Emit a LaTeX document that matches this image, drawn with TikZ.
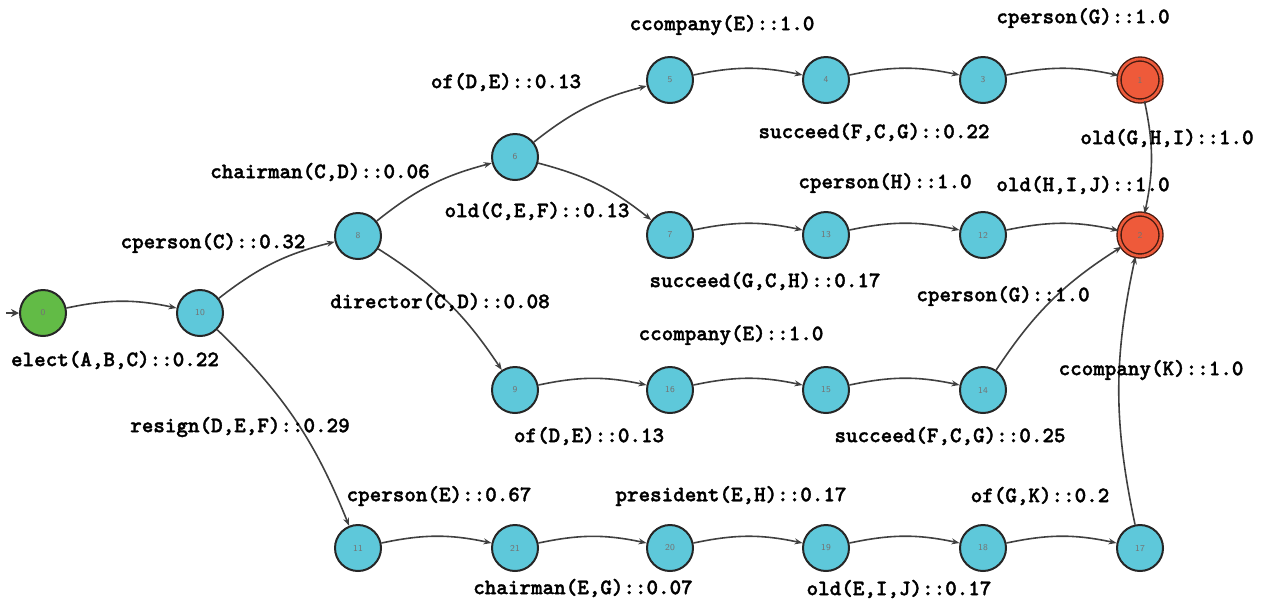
\documentclass[tikz,border=0pt]{standalone}
\usepackage{fontspec}
\newfontfamily\lblfont{lmmonolt10-bold.otf}[FakeBold=1.6]
\usetikzlibrary{arrows.meta}

\definecolor{statecyan}{RGB}{94,200,218}
\definecolor{stategreen}{RGB}{98,187,70}
\definecolor{statered}{RGB}{238,90,58}

\tikzset{
  state/.style={circle, draw=black!85, line width=1pt, fill=statecyan,
    minimum size=23pt, inner sep=0pt,
    font=\fontsize{4.5}{4.5}\selectfont\sffamily, text=black!55},
  initial/.style={state, fill=stategreen},
  accept/.style={state, fill=statered, draw=black!70!statered, line width=0.7pt,
    double=statered, double distance=1.3pt, minimum size=21pt},
  trans/.style={draw=black!75, line width=0.8pt, bend left=12,
    -{Stealth[length=4pt, width=3pt]}},
  lbl/.style={font=\fontsize{11}{12}\selectfont\lblfont}
}

\begin{document}
\begin{tikzpicture}[x=0.5pt, y=-0.5pt]
\useasboundingbox (0,0) rectangle (1267,601);

% states
\node [initial] (n0) at (43,313) {0};
\node [state] (n10) at (200,313) {10};
\node [state] (n8) at (358,236) {8};
\node [state] (n6) at (515,157) {6};
\node [state] (n5) at (670,80) {5};
\node [state] (n4) at (826,80) {4};
\node [state] (n3) at (983,80) {3};
\node [accept] (n1) at (1140,80) {1};
\node [state] (n7) at (670,235) {7};
\node [state] (n13) at (826,235) {13};
\node [state] (n12) at (983,235) {12};
\node [accept] (n2) at (1140,235) {2};
\node [state] (n9) at (515,390) {9};
\node [state] (n16) at (670,390) {16};
\node [state] (n15) at (826,390) {15};
\node [state] (n14) at (983,390) {14};
\node [state] (n11) at (358,548) {11};
\node [state] (n21) at (515,548) {21};
\node [state] (n20) at (670,548) {20};
\node [state] (n19) at (826,548) {19};
\node [state] (n18) at (983,548) {18};
\node [state] (n17) at (1140,548) {17};

% start marker
\coordinate (begin) at (6,313);
\draw [draw=black!75, line width=0.8pt, -{Stealth[length=4pt, width=4pt]}] (begin) -- (n0);

% transitions
\draw [trans] (n0) to (n10);
\draw [trans] (n10) to (n8);
\draw [trans] (n10) to (n11);
\draw [trans] (n8) to (n6);
\draw [trans] (n8) to (n9);
\draw [trans] (n6) to (n5);
\draw [trans] (n6) to (n7);
\draw [trans] (n5) to (n4);
\draw [trans] (n4) to (n3);
\draw [trans] (n3) to (n1);
\draw [trans] (n1) to (n2);
\draw [trans] (n7) to (n13);
\draw [trans] (n13) to (n12);
\draw [trans] (n12) to (n2);
\draw [trans] (n9) to (n16);
\draw [trans] (n16) to (n15);
\draw [trans] (n15) to (n14);
\draw [trans] (n14) to (n2);
\draw [trans] (n11) to (n21);
\draw [trans] (n21) to (n20);
\draw [trans] (n20) to (n19);
\draw [trans] (n19) to (n18);
\draw [trans] (n18) to (n17);
\draw [trans] (n17) to (n2);

% labels
\node [lbl] (l0) at (115,360) {elect(A,B,C)::0.22};
\node [lbl] (l1) at (213,243) {cperson(C)::0.32};
\node [lbl] (l2) at (240,427) {resign(D,E,F)::0.29};
\node [lbl] (l3) at (320,172) {chairman(C,D)::0.06};
\node [lbl] (l4) at (440,302) {director(C,D)::0.08};
\node [lbl] (l5) at (506,82) {of(D,E)::0.13};
\node [lbl] (l6) at (537,211) {old(C,E,F)::0.13};
\node [lbl] (l7) at (722,25) {ccompany(E)::1.0};
\node [lbl] (l8) at (1083,18) {cperson(G)::1.0};
\node [lbl] (l9) at (874,132) {succeed(F,C,G)::0.22};
\node [lbl] (l10) at (1167,138) {old(G,H,I)::1.0};
\node [lbl] (l11) at (885,183) {cperson(H)::1.0};
\node [lbl] (l12) at (1083,185) {old(H,I,J)::1.0};
\node [lbl] (l13) at (765,281) {succeed(G,C,H)::0.17};
\node [lbl] (l14) at (1003,296) {cperson(G)::1.0};
\node [lbl] (l15) at (731,335) {ccompany(E)::1.0};
\node [lbl] (l16) at (1151,370) {ccompany(K)::1.0};
\node [lbl] (l17) at (589,436) {of(D,E)::0.13};
\node [lbl] (l18) at (950,436) {succeed(F,C,G)::0.25};
\node [lbl] (l19) at (439,496) {cperson(E)::0.67};
\node [lbl] (l20) at (731,496) {president(E,H)::0.17};
\node [lbl] (l21) at (1040,496) {of(G,K)::0.2};
\node [lbl] (l22) at (583,588) {chairman(E,G)::0.07};
\node [lbl] (l23) at (899,589) {old(E,I,J)::0.17};
\end{tikzpicture}
\end{document}
